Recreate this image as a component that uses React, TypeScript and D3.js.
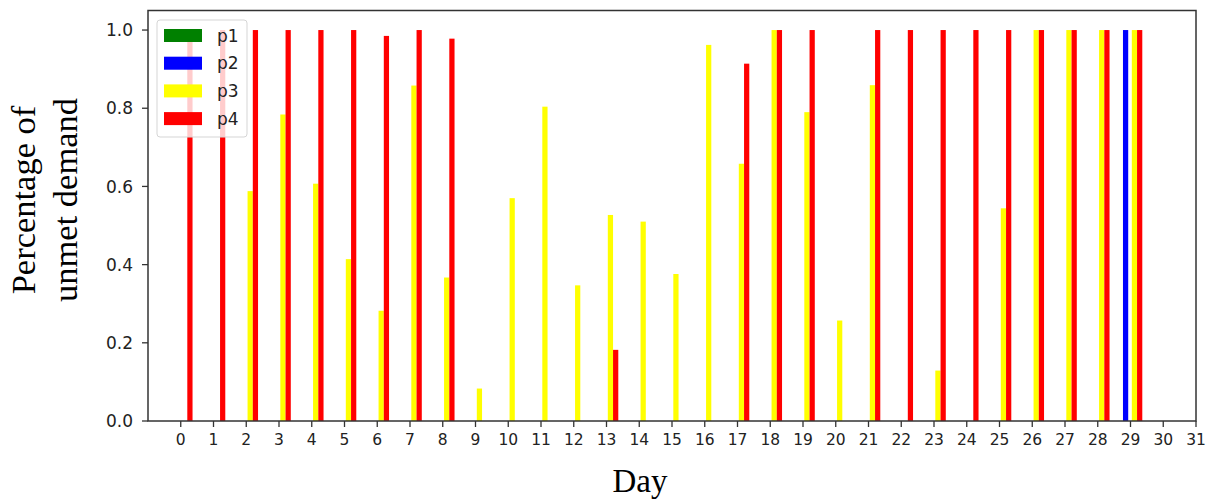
import React from "react";
import * as d3 from "d3";

const days = d3.range(0, 31);
const xTicks = d3.range(0, 32);
const yTicks = [0.0, 0.2, 0.4, 0.6, 0.8, 1.0];

const p1 = [0,0,0,0,0,0,0,0,0,0,0,0,0,0,0,0,0,0,0,0,0,0,0,0,0,0,0,0,0,0,0];
const p2 = [0,0,0,0,0,0,0,0,0,0,0,0,0,0,0,0,0,0,0,0,0,0,0,0,0,0,0,0,0,1.0,0];
const p3 = [0,0,0.588,0.784,0.607,0.414,0.282,0.858,0.367,0.083,0.570,0.804,0.347,0.527,0.510,0.376,0.962,0.658,1.0,0.790,0.257,0.859,0,0.129,0,0.544,1.0,1.0,1.0,1.0,0];
const p4 = [1.0,1.0,1.0,1.0,1.0,1.0,0.985,1.0,0.978,0,0,0,0,0.182,0,0,0,0.914,1.0,1.0,0,1.0,1.0,1.0,1.0,1.0,1.0,1.0,1.0,1.0,0];

const seriesNames = ["p1", "p2", "p3", "p4"];
const seriesColors = ["#008000", "#0000ff", "#ffff00", "#ff0000"];
const seriesOffsets = [-0.3, -0.15, 0.12, 0.28];
const seriesData = [p1, p2, p3, p4];

const W = 1217;
const H = 502;
const left = 148, right = 1196, top = 10.5, bottom = 421;

export default function App() {
  const x = d3.scaleLinear().domain([-1, 31]).range([left, right]);
  const y = d3.scaleLinear().domain([0, 1.05]).range([bottom, top]);
  const barW = x(0.16) - x(0);
  const axisColor = "#333";

  return (
    <svg width={W} height={H} style={{ position: "absolute", left: 0, top: 0, background: "#fff" }}>
      <rect x={0} y={0} width={W} height={H} fill="#fff" />
      {seriesData.map((vals, si) => (
        <g key={si}>
          {days.map((d, i) =>
            vals[i] > 0 ? (
              <rect
                key={i}
                x={x(d + seriesOffsets[si]) - barW / 2}
                y={y(vals[i])}
                width={barW}
                height={y(0) - y(vals[i])}
                fill={seriesColors[si]}
              />
            ) : null
          )}
        </g>
      ))}
      {/* spines */}
      <rect x={left} y={top} width={right - left} height={bottom - top} fill="none" stroke={axisColor} strokeWidth={1.5} />
      {/* x ticks */}
      {xTicks.map((t) => (
        <g key={t}>
          <line x1={x(t)} x2={x(t)} y1={bottom} y2={bottom + 6} stroke={axisColor} strokeWidth={1.3} />
          <text
            x={x(t)}
            y={bottom + 24}
            textAnchor="middle"
            fontFamily="DejaVu Sans"
            fontSize={15.5}
            fill="#222"
          >
            {t}
          </text>
        </g>
      ))}
      {/* y ticks */}
      {yTicks.map((t) => (
        <g key={t}>
          <line x1={left - 6} x2={left} y1={y(t)} y2={y(t)} stroke={axisColor} strokeWidth={1.3} />
          <text
            x={left - 15}
            y={y(t)}
            dy="0.36em"
            textAnchor="end"
            fontFamily="DejaVu Sans"
            fontSize={17}
            fill="#222"
          >
            {t.toFixed(1)}
          </text>
        </g>
      ))}
      {/* legend */}
      <g>
        <rect x={157} y={20} width={90} height={117} rx={3} fill="#fff" fillOpacity={0.8} stroke="#d5d5d5" strokeWidth={1} />
        {seriesNames.map((n, i) => (
          <g key={n}>
            <rect x={164} y={29 + i * 27.7} width={38} height={13} fill={seriesColors[i]} />
            <text x={217} y={35.5 + i * 27.7} dy="0.36em" fontFamily="DejaVu Sans" fontSize={17} fill="#222">
              {n}
            </text>
          </g>
        ))}
      </g>
      {/* axis labels */}
      <text x={640} y={492} textAnchor="middle" fontFamily="Liberation Serif" fontSize={33} fill="#000">
        Day
      </text>
      <g transform="translate(0,200) rotate(-90)">
        <text x={0} y={35} textAnchor="middle" fontFamily="Liberation Serif" fontSize={34.5} fill="#000">
          Percentage of
        </text>
        <text x={0} y={76.5} textAnchor="middle" fontFamily="Liberation Serif" fontSize={34.5} fill="#000">
          unmet demand
        </text>
      </g>
    </svg>
  );
}
